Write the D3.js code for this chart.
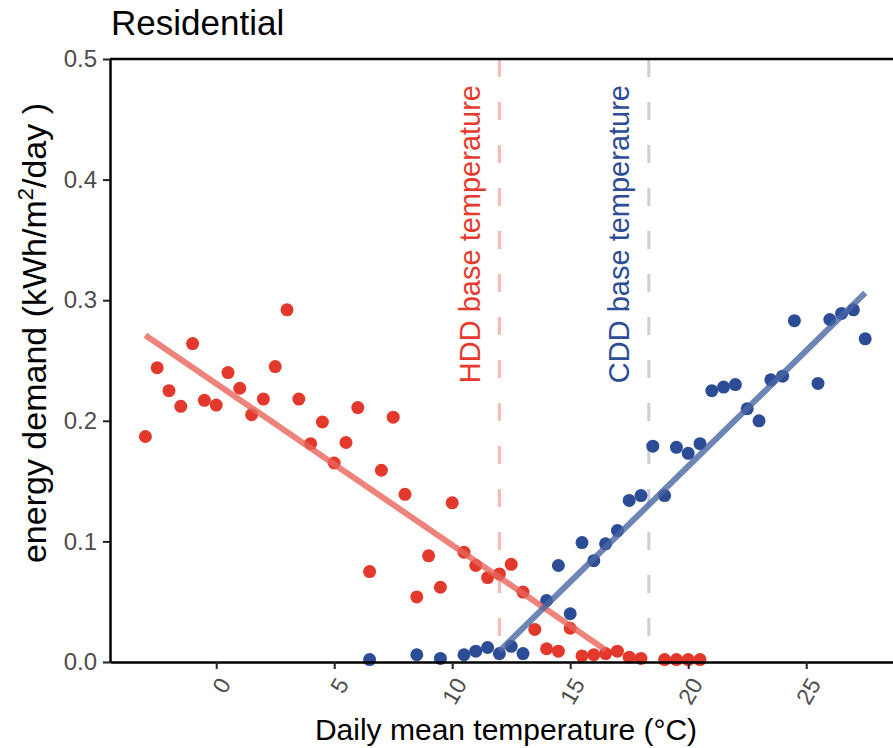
<!DOCTYPE html>
<html><head><meta charset="utf-8">
<script src="https://cdn.jsdelivr.net/npm/d3@7"></script>
<style>body{margin:0;background:#fff}svg{display:block;font-family:"Liberation Sans",Arial,sans-serif}</style>
</head><body>
<svg id="c" width="893" height="748"></svg>
<script>
// Heating (red) points: daily mean temperature (°C) and energy demand
const hddTemp = [-3,-2.5,-2,-1.5,-1,-0.5,0,0.5,1,1.5,2,2.5,3,3.5,4,4.5,5,5.5,6,6.5,7,7.5,8,8.5,9,9.5,10,10.5,11,11.5,12,12.5,13,13.5,14,14.5,15,15.5,16,16.5,17,17.5,18,19,19.5,20,20.5];
const hddDemand = [0.187,0.244,0.225,0.212,0.264,0.217,0.213,0.240,0.227,0.205,0.218,0.245,0.292,0.218,0.181,0.199,0.165,0.182,0.211,0.075,0.159,0.203,0.139,0.054,0.088,0.062,0.132,0.091,0.080,0.070,0.073,0.081,0.058,0.027,0.011,0.009,0.028,0.005,0.006,0.007,0.009,0.004,0.003,0.002,0.002,0.002,0.002];
// Cooling (blue) points
const cddTemp = [6.5,8.5,9.5,10.5,11,11.5,12,12.5,13,14,14.5,15,15.5,16,16.5,17,17.5,18,18.5,19,19.5,20,20.5,21,21.5,22,22.5,23,23.5,24,24.5,25.5,26,26.5,27,27.5];
const cddDemand = [0.002,0.006,0.003,0.006,0.009,0.012,0.007,0.013,0.007,0.051,0.080,0.040,0.099,0.084,0.098,0.109,0.134,0.138,0.179,0.138,0.178,0.173,0.181,0.225,0.228,0.230,0.210,0.200,0.234,0.237,0.283,0.231,0.284,0.289,0.292,0.268];
// Fitted lines (endpoints)
const hddFitX = [-3, 16.5], hddFitY = [0.271, 0.010];
const cddFitX = [12, 27.5], cddFitY = [0.009, 0.306];
// Base temperatures
const hddBase = 12, cddBase = 18.33;
// Ticks
const xTicks = [0,5,10,15,20,25];
const yTicks = [0,0.1,0.2,0.3,0.4,0.5];

const svg = d3.select("#c");
const x = d3.scaleLinear().domain([-4.5, 29]).range([110, 900.6]);
const y = d3.scaleLinear().domain([0, 0.5]).range([662, 59]);

svg.append("rect").attr("width",893).attr("height",748).attr("fill","#fff");

// base temperature dashed lines
svg.append("line").attr("x1",x(hddBase)).attr("x2",x(hddBase)).attr("y1",y(0.5)).attr("y2",y(0))
  .attr("stroke","#f3b9b6").attr("stroke-width",3).attr("stroke-dasharray","18,25");
svg.append("line").attr("x1",x(cddBase)).attr("x2",x(cddBase)).attr("y1",y(0.5)).attr("y2",y(0))
  .attr("stroke","#c9ced8").attr("stroke-width",3).attr("stroke-dasharray","18,25");

// annotation text
svg.append("text").attr("transform",`translate(${x(hddBase)-19},85) rotate(-90)`)
  .attr("text-anchor","end").attr("font-size",29).attr("fill","#e63a2e").text("HDD base temperature");
svg.append("text").attr("transform",`translate(${x(cddBase)-20},85) rotate(-90)`)
  .attr("text-anchor","end").attr("font-size",29).attr("fill","#2d4d96").text("CDD base temperature");

// points
svg.append("g").selectAll("circle").data(hddTemp.map((t,i)=>[t,hddDemand[i]])).join("circle")
  .attr("cx",d=>x(d[0])).attr("cy",d=>y(d[1])).attr("r",6.5).attr("fill","#e2392c");
svg.append("g").selectAll("circle").data(cddTemp.map((t,i)=>[t,cddDemand[i]])).join("circle")
  .attr("cx",d=>x(d[0])).attr("cy",d=>y(d[1])).attr("r",6.5).attr("fill","#2c4d96");

// fit lines
const line = d3.line().x(d=>x(d[0])).y(d=>y(d[1]));
svg.append("path").attr("d",line(hddFitX.map((v,i)=>[v,hddFitY[i]])))
  .attr("stroke","#e8645a").attr("stroke-opacity",0.8).attr("stroke-width",6).attr("fill","none");
svg.append("path").attr("d",line(cddFitX.map((v,i)=>[v,cddFitY[i]])))
  .attr("stroke","#4a67a3").attr("stroke-opacity",0.8).attr("stroke-width",6).attr("fill","none");

// axes
const xAxis = svg.append("g").attr("transform",`translate(0,${y(0)})`)
  .call(d3.axisBottom(x).tickValues(xTicks).tickSize(7).tickSizeOuter(0).tickFormat(d3.format("d")));
xAxis.select(".domain").attr("stroke","#000").attr("stroke-width",2.5);
xAxis.selectAll(".tick line").attr("stroke","#222").attr("stroke-width",2);
xAxis.selectAll(".tick text").attr("font-size",23).attr("fill","#4d4d4d")
  .attr("text-anchor","end").attr("dy",0).attr("y",0)
  .attr("transform","translate(15,22) rotate(-60)");

const yAxis = svg.append("g").attr("transform",`translate(${x(-4.5)},0)`)
  .call(d3.axisLeft(y).tickValues(yTicks).tickSize(7).tickSizeOuter(0).tickFormat(d3.format(".1f")));
yAxis.select(".domain").attr("stroke","#000").attr("stroke-width",2.5);
yAxis.selectAll(".tick line").attr("stroke","#222").attr("stroke-width",2);
yAxis.selectAll(".tick text").attr("font-size",24).attr("fill","#4d4d4d").attr("x",-13);

// top border
svg.append("line").attr("x1",x(-4.5)).attr("x2",900).attr("y1",y(0.5)).attr("y2",y(0.5))
  .attr("stroke","#000").attr("stroke-width",2.5);

// titles
svg.append("text").attr("x",111).attr("y",35).attr("font-size",35).attr("fill","#000").text("Residential");
svg.append("text").attr("x",506).attr("y",740).attr("text-anchor","middle").attr("font-size",30)
  .attr("fill","#000").text("Daily mean temperature (°C)");
const yl = svg.append("text").attr("transform","translate(46,333) rotate(-90)").attr("text-anchor","middle")
  .attr("font-size",34).attr("fill","#000");
yl.append("tspan").text("energy demand (kWh/m");
yl.append("tspan").attr("font-size",22).attr("dy",-13).text("2");
yl.append("tspan").attr("dy",13).text("/day )");
</script>
</body></html>
